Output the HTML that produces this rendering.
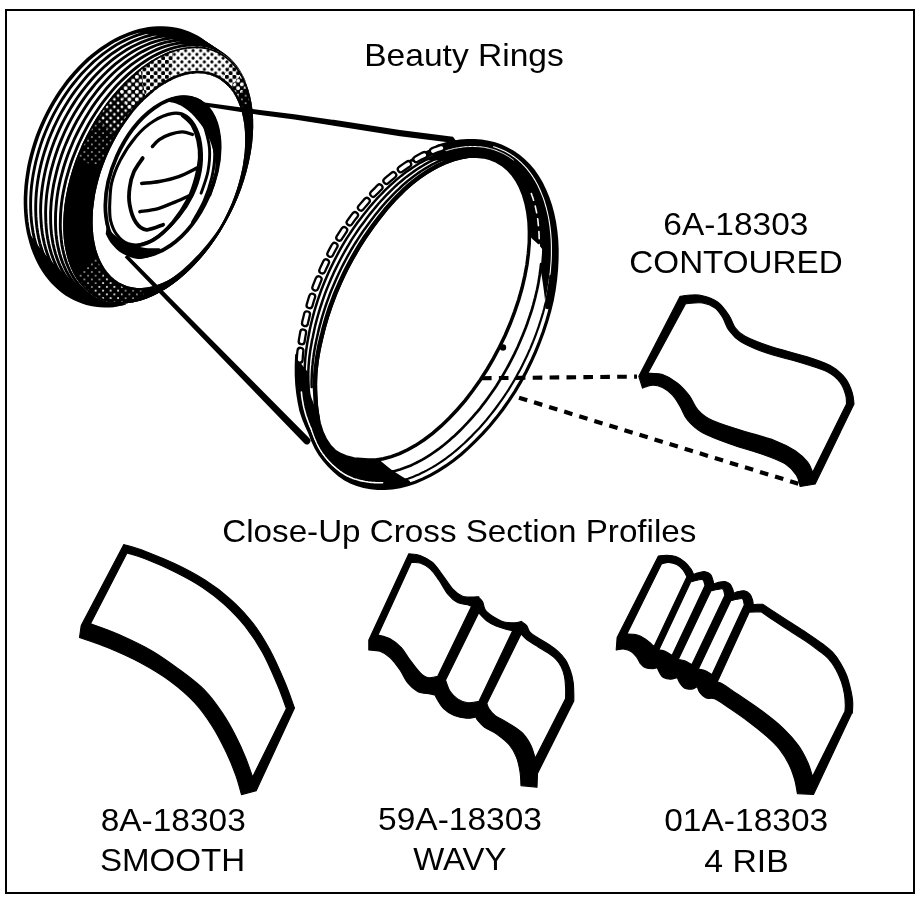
<!DOCTYPE html>
<html><head><meta charset="utf-8"><title>Beauty Rings</title>
<style>
html,body{margin:0;padding:0;background:#fff;}
svg{display:block;}
text{font-family:"Liberation Sans",sans-serif;fill:#000;}
</style></head><body>
<svg width="920" height="899" viewBox="0 0 920 899">
<rect x="0" y="0" width="920" height="899" fill="#fff"/>
<rect x="6" y="10" width="908" height="883" fill="none" stroke="#000" stroke-width="2"/>
<g text-anchor="middle" font-size="31.5" opacity="0.999">
<text transform="translate(464 66.3) scale(1.066 1)">Beauty Rings</text>
<text transform="translate(735.8 234.5) scale(1.062 1)">6A-18303</text>
<text transform="translate(736 273) scale(1.054 1)">CONTOURED</text>
<text transform="translate(459.3 541.8) scale(1.054 1)">Close-Up Cross Section Profiles</text>
<text transform="translate(173.2 830.8) scale(1.062 1)">8A-18303</text>
<text transform="translate(172.5 870.5) scale(1.051 1)">SMOOTH</text>
<text transform="translate(460 829.5) scale(1.064 1)">59A-18303</text>
<text transform="translate(459.8 869.5) scale(1.045 1)">WAVY</text>
<text transform="translate(746.2 831.2) scale(1.064 1)">01A-18303</text>
<text transform="translate(746.5 872) scale(1.072 1)">4 RIB</text>
</g>
<defs>
<pattern id="L0" width="7.5" height="7.5" patternUnits="userSpaceOnUse"><circle cx="1.875" cy="1.875" r="0.8" fill="#fff"/><circle cx="5.625" cy="5.625" r="0.8" fill="#fff"/></pattern>
<pattern id="L0b" width="7.5" height="7.5" patternUnits="userSpaceOnUse"><circle cx="1.875" cy="1.875" r="1.05" fill="#fff"/><circle cx="5.625" cy="5.625" r="1.05" fill="#fff"/></pattern>
<pattern id="L1" width="7.5" height="7.5" patternUnits="userSpaceOnUse"><circle cx="1.875" cy="1.875" r="1.35" fill="#fff"/><circle cx="5.625" cy="5.625" r="1.35" fill="#fff"/></pattern>
<pattern id="L2" width="7.5" height="7.5" patternUnits="userSpaceOnUse"><circle cx="1.875" cy="1.875" r="1.9" fill="#fff"/><circle cx="5.625" cy="5.625" r="1.9" fill="#fff"/></pattern>
<pattern id="L3" width="7.5" height="7.5" patternUnits="userSpaceOnUse"><rect width="7.5" height="7.5" fill="#fff"/><circle cx="1.875" cy="1.875" r="2.1" fill="#000"/><circle cx="5.625" cy="5.625" r="2.1" fill="#000"/></pattern>
<pattern id="L4" width="7.5" height="7.5" patternUnits="userSpaceOnUse"><rect width="7.5" height="7.5" fill="#fff"/><circle cx="1.875" cy="1.875" r="1.6" fill="#000"/><circle cx="5.625" cy="5.625" r="1.6" fill="#000"/></pattern>
<clipPath id="outsideEt"><path clip-rule="evenodd" d="M0,0 H920 V899 H0 Z M218.4,51.6 L223.4,54.4 L228,57.8 L232.4,61.7 L236.3,66.3 L239.9,71.3 L243.1,76.8 L245.9,82.9 L248.2,89.3 L250.1,96.2 L251.6,103.5 L252.6,111.1 L253.1,119.1 L253.2,127.3 L252.8,135.7 L252,144.4 L250.7,153.1 L248.9,162 L246.7,171 L244.1,179.9 L241.1,188.9 L237.6,197.8 L233.8,206.5 L229.6,215.1 L225,223.6 L220.2,231.7 L215,239.6 L209.5,247.2 L203.8,254.5 L197.9,261.3 L191.8,267.8 L185.5,273.7 L179.1,279.2 L172.6,284.2 L166,288.7 L159.4,292.6 L152.7,295.9 L146.1,298.7 L139.6,300.8 L133.1,302.3 L126.8,303.2 L120.6,303.5 L114.6,303.2 L108.8,302.2 L103.3,300.6 L98,298.4 L93,295.6 L88.4,292.2 L84,288.3 L80.1,283.7 L76.5,278.7 L73.3,273.2 L70.5,267.1 L68.2,260.7 L66.3,253.8 L64.8,246.5 L63.8,238.9 L63.3,230.9 L63.2,222.7 L63.6,214.3 L64.4,205.6 L65.7,196.9 L67.5,188 L69.7,179 L72.3,170.1 L75.3,161.1 L78.8,152.2 L82.6,143.5 L86.8,134.9 L91.4,126.4 L96.2,118.3 L101.4,110.4 L106.9,102.8 L112.6,95.5 L118.5,88.7 L124.6,82.2 L130.9,76.3 L137.3,70.8 L143.8,65.8 L150.4,61.3 L157,57.4 L163.7,54.1 L170.3,51.3 L176.8,49.2 L183.3,47.7 L189.6,46.8 L195.8,46.5 L201.8,46.8 L207.6,47.8 L213.1,49.4 L218.4,51.6 Z"/></clipPath>
<clipPath id="band"><path clip-rule="evenodd" d="M218.4,51.6 L223.4,54.4 L228,57.8 L232.4,61.7 L236.3,66.3 L239.9,71.3 L243.1,76.8 L245.9,82.9 L248.2,89.3 L250.1,96.2 L251.6,103.5 L252.6,111.1 L253.1,119.1 L253.2,127.3 L252.8,135.7 L252,144.4 L250.7,153.1 L248.9,162 L246.7,171 L244.1,179.9 L241.1,188.9 L237.6,197.8 L233.8,206.5 L229.6,215.1 L225,223.6 L220.2,231.7 L215,239.6 L209.5,247.2 L203.8,254.5 L197.9,261.3 L191.8,267.8 L185.5,273.7 L179.1,279.2 L172.6,284.2 L166,288.7 L159.4,292.6 L152.7,295.9 L146.1,298.7 L139.6,300.8 L133.1,302.3 L126.8,303.2 L120.6,303.5 L114.6,303.2 L108.8,302.2 L103.3,300.6 L98,298.4 L93,295.6 L88.4,292.2 L84,288.3 L80.1,283.7 L76.5,278.7 L73.3,273.2 L70.5,267.1 L68.2,260.7 L66.3,253.8 L64.8,246.5 L63.8,238.9 L63.3,230.9 L63.2,222.7 L63.6,214.3 L64.4,205.6 L65.7,196.9 L67.5,188 L69.7,179 L72.3,170.1 L75.3,161.1 L78.8,152.2 L82.6,143.5 L86.8,134.9 L91.4,126.4 L96.2,118.3 L101.4,110.4 L106.9,102.8 L112.6,95.5 L118.5,88.7 L124.6,82.2 L130.9,76.3 L137.3,70.8 L143.8,65.8 L150.4,61.3 L157,57.4 L163.7,54.1 L170.3,51.3 L176.8,49.2 L183.3,47.7 L189.6,46.8 L195.8,46.5 L201.8,46.8 L207.6,47.8 L213.1,49.4 L218.4,51.6 Z M214.7,76.7 L218.9,78.8 L222.8,81.4 L226.4,84.5 L229.8,88.1 L232.9,92.1 L235.6,96.6 L238,101.5 L240.1,106.7 L241.9,112.3 L243.2,118.3 L244.3,124.5 L244.9,131.1 L245.2,137.8 L245.1,144.8 L244.7,151.9 L243.8,159.2 L242.7,166.6 L241.1,174.1 L239.2,181.6 L237,189.1 L234.4,196.5 L231.5,203.9 L228.3,211.1 L224.8,218.2 L221,225.2 L217,231.9 L212.8,238.3 L208.3,244.5 L203.7,250.4 L198.8,255.9 L193.9,261 L188.8,265.8 L183.6,270.2 L178.3,274.1 L173,277.5 L167.7,280.5 L162.4,283 L157.1,285 L151.8,286.5 L146.7,287.5 L141.7,287.9 L136.7,287.9 L132,287.3 L127.4,286.2 L123.1,284.5 L118.9,282.4 L115,279.8 L111.4,276.7 L108,273.1 L104.9,269.1 L102.2,264.6 L99.8,259.7 L97.7,254.5 L95.9,248.9 L94.6,242.9 L93.5,236.7 L92.9,230.1 L92.6,223.4 L92.7,216.4 L93.1,209.3 L94,202 L95.1,194.6 L96.7,187.1 L98.6,179.6 L100.8,172.1 L103.4,164.7 L106.3,157.3 L109.5,150.1 L113,143 L116.8,136 L120.8,129.3 L125,122.9 L129.5,116.7 L134.1,110.8 L139,105.3 L143.9,100.2 L149,95.4 L154.2,91 L159.5,87.1 L164.8,83.7 L170.1,80.7 L175.4,78.2 L180.7,76.2 L186,74.7 L191.1,73.7 L196.1,73.3 L201.1,73.3 L205.8,73.9 L210.4,75 L214.7,76.7 Z"/></clipPath>
</defs>
<g id="tire">
<g clip-path="url(#outsideEt)" fill="none" stroke="#000">
<path d="M114,305.5 L109.3,305.8 L104.7,305.8 L100.1,305.5 L95.6,305 L91.1,304.2 L86.8,303.2 L82.5,301.8 L78.3,300.2 L74.3,298.4 L70.3,296.3 L66.5,293.9 L62.8,291.3 L59.3,288.4 L55.9,285.3 L52.6,282 L49.5,278.4 L46.6,274.7 L43.9,270.7 L41.3,266.5 L38.9,262.1 L36.7,257.6 L34.7,252.8 L32.8,247.9 L31.2,242.8 L29.8,237.6 L28.5,232.3 L27.5,226.8 L26.7,221.2 L26.1,215.5 L25.7,209.7 L25.5,203.8 L25.5,197.8 L25.8,191.8 L26.2,185.8 L26.9,179.7 L27.8,173.5 L28.8,167.4 L30.1,161.2 L31.6,155.1 L33.3,149 L35.2,142.9 L37.2,136.9 L39.5,130.9 L42,125 L44.6,119.2 L47.4,113.5 L50.4,107.9 L53.5,102.4 L56.8,97 L60.2,91.8 L63.8,86.7 L67.5,81.7 L71.4,77 L75.3,72.4 L79.4,68 L83.6,63.8 L87.9,59.7 L92.3,55.9 L96.8,52.4 L101.3,49 L105.9,45.9 L110.5,43 L115.2,40.3 L120,37.9 L124.7,35.8 L129.5,33.9 L134.3,32.2 L139.1,30.8 L143.9,29.7 L148.6,28.9 L153.4,28.3 L158,28 L162.7,28 L167.3,28.2 L171.8,28.7 L176.2,29.5 L180.6,30.6 L184.9,31.9 L189,33.5 L193.1,35.3 L197.1,37.4 L200.9,39.8 L204.6,42.4 L208.1,45.2 L211.5,48.3 L214.8,51.6 L217.9,55.2 L220.8,58.9 L223.6,62.9 L226.2,67.1" stroke-width="3.6"/>
<path d="M115.6,305.3 L111,305.5 L106.5,305.5 L102,305.3 L97.6,304.7 L93.3,304 L89,302.9 L84.9,301.6 L80.8,300 L76.9,298.1 L73.1,296 L69.4,293.7 L65.8,291.1 L62.4,288.2 L59.1,285.2 L56,281.9 L53,278.3 L50.2,274.6 L47.6,270.6 L45.1,266.5 L42.8,262.2 L40.7,257.6 L38.8,252.9 L37.1,248.1 L35.6,243 L34.2,237.9 L33.1,232.6 L32.2,227.1 L31.5,221.6 L31,215.9 L30.7,210.2 L30.6,204.3 L30.7,198.4 L31,192.5 L31.5,186.5 L32.3,180.4 L33.2,174.4 L34.4,168.3 L35.7,162.2 L37.3,156.1 L39,150.1 L40.9,144.1 L43,138.1 L45.3,132.2 L47.8,126.4 L50.5,120.6 L53.3,114.9 L56.3,109.4 L59.4,103.9 L62.7,98.6 L66.2,93.4 L69.7,88.4 L73.5,83.5 L77.3,78.8 L81.2,74.2 L85.3,69.9 L89.5,65.7 L93.7,61.7 L98.1,58 L102.5,54.4 L107,51.1 L111.5,48 L116.1,45.1 L120.7,42.5 L125.4,40.1 L130.1,38 L134.8,36.1 L139.5,34.5 L144.2,33.2 L148.9,32.1 L153.5,31.3 L158.2,30.7 L162.8,30.4 L167.3,30.4 L171.8,30.6 L176.2,31.1 L180.5,31.9 L184.8,33 L188.9,34.3 L193,35.9 L196.9,37.7 L200.8,39.8 L204.5,42.1 L208,44.7 L211.5,47.5 L214.8,50.6 L217.9,53.9 L220.9,57.4 L223.7,61.1 L226.3,65.1 L228.8,69.2" stroke-width="2.9"/>
<path d="M117.2,305 L112.8,305.3 L108.3,305.3 L104,305 L99.7,304.5 L95.4,303.7 L91.3,302.6 L87.3,301.3 L83.3,299.7 L79.5,297.9 L75.8,295.8 L72.2,293.5 L68.8,290.9 L65.5,288.1 L62.3,285 L59.3,281.7 L56.4,278.3 L53.8,274.5 L51.2,270.6 L48.9,266.5 L46.7,262.2 L44.8,257.7 L43,253.1 L41.4,248.2 L39.9,243.3 L38.7,238.1 L37.7,232.9 L36.9,227.5 L36.3,222 L35.9,216.4 L35.7,210.7 L35.7,204.9 L35.9,199.1 L36.3,193.2 L36.9,187.2 L37.7,181.2 L38.7,175.2 L39.9,169.2 L41.3,163.2 L42.9,157.2 L44.7,151.2 L46.7,145.2 L48.8,139.3 L51.2,133.5 L53.7,127.7 L56.4,122 L59.2,116.4 L62.2,110.9 L65.4,105.5 L68.7,100.2 L72.1,95.1 L75.7,90.1 L79.4,85.3 L83.2,80.6 L87.1,76.1 L91.2,71.8 L95.3,67.7 L99.5,63.7 L103.8,60 L108.2,56.5 L112.6,53.2 L117.1,50.2 L121.6,47.3 L126.2,44.8 L130.8,42.4 L135.4,40.3 L140,38.5 L144.6,36.9 L149.3,35.5 L153.9,34.4 L158.4,33.6 L163,33.1 L167.4,32.8 L171.9,32.8 L176.3,33 L180.6,33.6 L184.8,34.3 L188.9,35.4 L193,36.7 L196.9,38.3 L200.7,40.1 L204.5,42.2 L208,44.5 L211.5,47 L214.8,49.8 L218,52.9 L221,56.1 L223.8,59.6 L226.5,63.3 L229.1,67.2 L231.4,71.3" stroke-width="2.9"/>
<path d="M118.9,304.7 L114.5,305 L110.2,305 L105.9,304.7 L101.7,304.2 L97.6,303.4 L93.6,302.3 L89.7,301 L85.8,299.5 L82.1,297.6 L78.6,295.6 L75.1,293.3 L71.8,290.7 L68.6,287.9 L65.5,284.9 L62.6,281.6 L59.9,278.2 L57.4,274.5 L55,270.6 L52.7,266.5 L50.7,262.3 L48.8,257.8 L47.1,253.2 L45.6,248.4 L44.3,243.5 L43.2,238.4 L42.3,233.2 L41.6,227.9 L41.1,222.5 L40.8,216.9 L40.6,211.3 L40.7,205.6 L41,199.8 L41.5,193.9 L42.2,188 L43.1,182.1 L44.2,176.1 L45.4,170.2 L46.9,164.2 L48.5,158.3 L50.4,152.3 L52.4,146.4 L54.6,140.6 L57,134.8 L59.5,129.1 L62.2,123.4 L65.1,117.9 L68.1,112.4 L71.3,107.1 L74.6,101.9 L78,96.8 L81.6,91.9 L85.3,87.1 L89.1,82.5 L93,78 L97,73.8 L101.1,69.7 L105.3,65.8 L109.5,62.1 L113.8,58.7 L118.2,55.4 L122.7,52.4 L127.1,49.6 L131.6,47 L136.2,44.7 L140.7,42.6 L145.2,40.8 L149.8,39.2 L154.3,37.9 L158.8,36.8 L163.3,36 L167.7,35.5 L172.1,35.2 L176.5,35.2 L180.7,35.5 L184.9,36 L189,36.8 L193.1,37.8 L197,39.1 L200.8,40.7 L204.5,42.5 L208.1,44.5 L211.6,46.8 L214.9,49.4 L218.1,52.1 L221.2,55.1 L224.1,58.4 L226.8,61.8 L229.4,65.5 L231.8,69.4 L234,73.4" stroke-width="2.9"/>
<path d="M120.6,304.4 L116.3,304.7 L112.1,304.7 L107.9,304.4 L103.8,303.9 L99.8,303.1 L95.9,302 L92.1,300.7 L88.4,299.2 L84.8,297.4 L81.3,295.3 L78,293 L74.8,290.5 L71.7,287.8 L68.8,284.8 L66,281.5 L63.4,278.1 L61,274.5 L58.7,270.6 L56.6,266.6 L54.6,262.4 L52.9,258 L51.3,253.4 L49.9,248.7 L48.7,243.8 L47.7,238.8 L46.9,233.6 L46.3,228.3 L45.9,222.9 L45.7,217.4 L45.6,211.9 L45.8,206.2 L46.2,200.5 L46.7,194.7 L47.5,188.9 L48.5,183 L49.6,177.1 L50.9,171.2 L52.5,165.3 L54.2,159.4 L56.1,153.5 L58.1,147.7 L60.4,141.9 L62.8,136.2 L65.3,130.5 L68.1,124.9 L71,119.4 L74,114 L77.2,108.8 L80.5,103.6 L83.9,98.6 L87.5,93.7 L91.2,89 L94.9,84.4 L98.8,80 L102.8,75.8 L106.9,71.7 L111,67.9 L115.2,64.2 L119.5,60.8 L123.8,57.6 L128.2,54.6 L132.6,51.8 L137,49.3 L141.5,47 L146,45 L150.4,43.1 L154.9,41.6 L159.3,40.3 L163.8,39.2 L168.1,38.5 L172.5,37.9 L176.8,37.7 L181,37.6 L185.2,37.9 L189.3,38.4 L193.3,39.2 L197.2,40.2 L201,41.5 L204.7,43 L208.3,44.8 L211.8,46.9 L215.1,49.2 L218.3,51.7 L221.4,54.4 L224.4,57.4 L227.1,60.6 L229.7,64 L232.2,67.7 L234.5,71.5 L236.6,75.5" stroke-width="2.9"/>
<path d="M122.3,304.1 L118.1,304.4 L114,304.4 L109.9,304.1 L105.9,303.6 L102,302.8 L98.2,301.8 L94.5,300.5 L90.9,298.9 L87.5,297.1 L84.1,295.1 L80.9,292.8 L77.8,290.3 L74.8,287.6 L72,284.6 L69.4,281.5 L66.9,278.1 L64.6,274.5 L62.4,270.7 L60.4,266.7 L58.6,262.5 L56.9,258.1 L55.5,253.6 L54.2,248.9 L53.1,244.1 L52.2,239.1 L51.5,234 L51,228.8 L50.7,223.5 L50.6,218 L50.6,212.5 L50.9,206.9 L51.3,201.2 L52,195.5 L52.8,189.7 L53.8,183.9 L55.1,178.1 L56.5,172.2 L58,166.4 L59.8,160.6 L61.7,154.8 L63.8,149 L66.1,143.3 L68.6,137.6 L71.2,132 L73.9,126.5 L76.8,121 L79.9,115.7 L83.1,110.5 L86.4,105.4 L89.8,100.4 L93.4,95.6 L97,90.9 L100.8,86.3 L104.7,82 L108.6,77.8 L112.6,73.8 L116.7,70 L120.9,66.4 L125.1,63 L129.4,59.8 L133.7,56.9 L138.1,54.1 L142.4,51.6 L146.8,49.4 L151.2,47.3 L155.6,45.5 L160,44 L164.3,42.7 L168.7,41.7 L173,40.9 L177.2,40.4 L181.4,40.1 L185.5,40.1 L189.6,40.3 L193.6,40.9 L197.5,41.6 L201.3,42.6 L205,43.9 L208.6,45.4 L212.1,47.2 L215.4,49.2 L218.7,51.5 L221.8,54 L224.7,56.7 L227.5,59.7 L230.2,62.8 L232.7,66.2 L235,69.8 L237.2,73.6 L239.2,77.6" stroke-width="2.9"/>
<path d="M124,303.8 L119.9,304 L115.9,304 L111.9,303.8 L108.1,303.3 L104.3,302.5 L100.6,301.5 L97,300.2 L93.5,298.7 L90.2,296.9 L86.9,294.9 L83.8,292.6 L80.8,290.2 L78,287.5 L75.3,284.5 L72.8,281.4 L70.4,278 L68.2,274.5 L66.1,270.7 L64.3,266.7 L62.6,262.6 L61,258.3 L59.7,253.8 L58.5,249.2 L57.5,244.4 L56.7,239.5 L56.1,234.4 L55.7,229.3 L55.5,224 L55.5,218.6 L55.6,213.2 L56,207.6 L56.5,202 L57.2,196.3 L58.1,190.6 L59.2,184.9 L60.5,179.1 L62,173.3 L63.6,167.5 L65.4,161.8 L67.4,156 L69.6,150.3 L71.9,144.7 L74.3,139 L77,133.5 L79.8,128 L82.7,122.7 L85.7,117.4 L88.9,112.2 L92.2,107.1 L95.7,102.2 L99.2,97.4 L102.9,92.8 L106.6,88.3 L110.5,84 L114.4,79.9 L118.4,75.9 L122.5,72.2 L126.6,68.6 L130.8,65.2 L135,62.1 L139.2,59.2 L143.5,56.5 L147.8,54 L152.1,51.7 L156.5,49.7 L160.8,47.9 L165.1,46.4 L169.3,45.1 L173.6,44.1 L177.8,43.3 L181.9,42.8 L186,42.6 L190,42.6 L194,42.8 L197.9,43.3 L201.7,44.1 L205.4,45.1 L208.9,46.3 L212.4,47.8 L215.8,49.6 L219,51.6 L222.2,53.8 L225.1,56.3 L228,59 L230.7,61.9 L233.2,65 L235.6,68.4 L237.8,71.9 L239.9,75.7 L241.8,79.6" stroke-width="2.9"/>
<path d="M125.7,303.4 L121.7,303.7 L117.8,303.7 L114,303.4 L110.2,302.9 L106.5,302.2 L102.9,301.2 L99.5,299.9 L96.1,298.4 L92.9,296.7 L89.7,294.7 L86.7,292.5 L83.9,290 L81.2,287.3 L78.6,284.4 L76.2,281.3 L73.9,278 L71.8,274.5 L69.9,270.8 L68.1,266.8 L66.5,262.8 L65.1,258.5 L63.9,254.1 L62.8,249.5 L61.9,244.8 L61.3,239.9 L60.8,234.9 L60.4,229.8 L60.3,224.6 L60.4,219.3 L60.6,213.8 L61,208.4 L61.6,202.8 L62.4,197.2 L63.4,191.6 L64.6,185.9 L65.9,180.2 L67.5,174.5 L69.2,168.7 L71,163 L73.1,157.3 L75.3,151.7 L77.6,146.1 L80.1,140.5 L82.8,135 L85.6,129.6 L88.5,124.3 L91.6,119.1 L94.8,114 L98.1,109 L101.5,104.1 L105.1,99.4 L108.7,94.8 L112.4,90.4 L116.2,86.1 L120.1,82 L124.1,78.1 L128.1,74.4 L132.2,70.8 L136.4,67.5 L140.5,64.4 L144.7,61.5 L148.9,58.8 L153.2,56.3 L157.4,54.1 L161.7,52.1 L165.9,50.4 L170.1,48.9 L174.3,47.6 L178.4,46.6 L182.5,45.8 L186.6,45.3 L190.6,45 L194.5,45 L198.4,45.3 L202.2,45.8 L205.8,46.5 L209.4,47.5 L212.9,48.7 L216.3,50.2 L219.5,52 L222.6,53.9 L225.6,56.1 L228.5,58.6 L231.2,61.2 L233.8,64.1 L236.2,67.2 L238.5,70.5 L240.6,74.1 L242.6,77.8 L244.3,81.7" stroke-width="2.9"/>
<path fill="#000" stroke="none" d="M134.8,32.1 L137.6,31.2 L140.5,30.5 L143.3,29.8 L146.1,29.3 L148.9,28.8 L151.7,28.5 L154.5,28.2 L157.3,28 L160.1,28 L162.8,28 L165.5,28.1 L168.2,28.3 L170.9,28.6 L173.6,29 L176.2,29.5 L178.8,30.1 L181.3,30.8 L183.9,31.6 L186.4,32.4 L188.8,33.4 L191.2,34.4 L193.6,35.6 L196,36.8 L198.3,38.1 L200.5,39.6 L202.7,41.1 L204.9,42.6 L207,44.3 L209.1,46.1 L211.1,47.9 L213.1,49.8 L215,51.8 L216.8,53.9 L218.6,56 L220.3,58.3 L222,60.6 L223.6,63 L225.2,65.4 L226.7,67.9 L228.1,70.5 L247.1,86.1 L246.2,83.7 L245.2,81.3 L244.2,79.1 L243.1,76.8 L241.9,74.7 L240.7,72.6 L239.5,70.6 L238.2,68.7 L236.8,66.9 L235.4,65.1 L233.9,63.4 L232.4,61.7 L230.8,60.2 L229.1,58.7 L227.5,57.3 L225.7,56 L224,54.8 L222.2,53.6 L220.3,52.6 L218.4,51.6 L216.4,50.7 L214.5,49.9 L212.4,49.2 L210.4,48.5 L208.3,48 L206.1,47.5 L204,47.1 L201.8,46.8 L199.6,46.6 L197.3,46.5 L193.8,45.8 L187.7,43.9 L181.5,42 L175.2,40.2 L168.8,38.6 L162.2,37 L155.5,35.6 L148.7,34.3 L141.8,33.1 L134.8,32.1 Z"/>
<path fill="#000" stroke="none" d="M132.8,301.7 L129.2,302.8 L125.6,303.7 L122,304.4 L118.5,305 L114.9,305.4 L111.4,305.7 L107.9,305.8 L104.4,305.8 L101,305.6 L97.6,305.3 L94.2,304.8 L90.9,304.2 L87.6,303.4 L84.4,302.4 L81.2,301.4 L78.1,300.1 L75.1,298.8 L72.1,297.2 L69.2,295.6 L66.3,293.8 L63.6,291.8 L60.9,289.7 L58.2,287.5 L55.7,285.1 L53.3,282.7 L50.9,280.1 L48.6,277.3 L46.5,274.5 L44.4,271.5 L42.4,268.4 L40.5,265.2 L38.8,261.9 L37.1,258.5 L35.5,255 L34.1,251.3 L32.7,247.6 L31.5,243.9 L30.4,240 L29.4,236 L28.5,232 L28.5,232 L31.3,236.1 L34.1,240.2 L37,244.1 L40,247.9 L43,251.6 L46,255.2 L49.1,258.7 L52.1,262.1 L55.3,265.3 L58.4,268.4 L61.6,271.4 L64.8,274.3 L68,277 L71.3,279.6 L74.5,282 L77.8,284.3 L81.1,286.4 L84.2,288.5 L86.3,290.4 L88.4,292.2 L90.5,293.9 L92.8,295.4 L95.1,296.9 L97.5,298.2 L100,299.3 L102.5,300.3 L105.1,301.2 L107.7,301.9 L110.4,302.5 L113.1,303 L115.9,303.3 L118.8,303.5 L121.7,303.5 L124.6,303.4 L127.6,303.1 L130.6,302.8 L133.6,302.2 L136.7,301.6 L139.7,300.7 L142.8,299.8 Z"/>
</g>
<path fill="#000" fill-rule="evenodd" d="M218.4,51.6 L223.4,54.4 L228,57.8 L232.4,61.7 L236.3,66.3 L239.9,71.3 L243.1,76.8 L245.9,82.9 L248.2,89.3 L250.1,96.2 L251.6,103.5 L252.6,111.1 L253.1,119.1 L253.2,127.3 L252.8,135.7 L252,144.4 L250.7,153.1 L248.9,162 L246.7,171 L244.1,179.9 L241.1,188.9 L237.6,197.8 L233.8,206.5 L229.6,215.1 L225,223.6 L220.2,231.7 L215,239.6 L209.5,247.2 L203.8,254.5 L197.9,261.3 L191.8,267.8 L185.5,273.7 L179.1,279.2 L172.6,284.2 L166,288.7 L159.4,292.6 L152.7,295.9 L146.1,298.7 L139.6,300.8 L133.1,302.3 L126.8,303.2 L120.6,303.5 L114.6,303.2 L108.8,302.2 L103.3,300.6 L98,298.4 L93,295.6 L88.4,292.2 L84,288.3 L80.1,283.7 L76.5,278.7 L73.3,273.2 L70.5,267.1 L68.2,260.7 L66.3,253.8 L64.8,246.5 L63.8,238.9 L63.3,230.9 L63.2,222.7 L63.6,214.3 L64.4,205.6 L65.7,196.9 L67.5,188 L69.7,179 L72.3,170.1 L75.3,161.1 L78.8,152.2 L82.6,143.5 L86.8,134.9 L91.4,126.4 L96.2,118.3 L101.4,110.4 L106.9,102.8 L112.6,95.5 L118.5,88.7 L124.6,82.2 L130.9,76.3 L137.3,70.8 L143.8,65.8 L150.4,61.3 L157,57.4 L163.7,54.1 L170.3,51.3 L176.8,49.2 L183.3,47.7 L189.6,46.8 L195.8,46.5 L201.8,46.8 L207.6,47.8 L213.1,49.4 L218.4,51.6 Z M214.7,76.7 L218.9,78.8 L222.8,81.4 L226.4,84.5 L229.8,88.1 L232.9,92.1 L235.6,96.6 L238,101.5 L240.1,106.7 L241.9,112.3 L243.2,118.3 L244.3,124.5 L244.9,131.1 L245.2,137.8 L245.1,144.8 L244.7,151.9 L243.8,159.2 L242.7,166.6 L241.1,174.1 L239.2,181.6 L237,189.1 L234.4,196.5 L231.5,203.9 L228.3,211.1 L224.8,218.2 L221,225.2 L217,231.9 L212.8,238.3 L208.3,244.5 L203.7,250.4 L198.8,255.9 L193.9,261 L188.8,265.8 L183.6,270.2 L178.3,274.1 L173,277.5 L167.7,280.5 L162.4,283 L157.1,285 L151.8,286.5 L146.7,287.5 L141.7,287.9 L136.7,287.9 L132,287.3 L127.4,286.2 L123.1,284.5 L118.9,282.4 L115,279.8 L111.4,276.7 L108,273.1 L104.9,269.1 L102.2,264.6 L99.8,259.7 L97.7,254.5 L95.9,248.9 L94.6,242.9 L93.5,236.7 L92.9,230.1 L92.6,223.4 L92.7,216.4 L93.1,209.3 L94,202 L95.1,194.6 L96.7,187.1 L98.6,179.6 L100.8,172.1 L103.4,164.7 L106.3,157.3 L109.5,150.1 L113,143 L116.8,136 L120.8,129.3 L125,122.9 L129.5,116.7 L134.1,110.8 L139,105.3 L143.9,100.2 L149,95.4 L154.2,91 L159.5,87.1 L164.8,83.7 L170.1,80.7 L175.4,78.2 L180.7,76.2 L186,74.7 L191.1,73.7 L196.1,73.3 L201.1,73.3 L205.8,73.9 L210.4,75 L214.7,76.7 Z"/>
<g clip-path="url(#band)">
<path d="M158.2,175 L50.5,156.9 L51.2,155 L51.9,153.1 L52.7,151.2 L53.4,149.2 L54.2,147.3 L55,145.4 L55.8,143.5 L56.6,141.6 L57.4,139.7 L58.2,137.8 L59.1,135.9 L59.9,134 L60.8,132.1 L61.7,130.3 L62.6,128.4 L63.5,126.5 L64.5,124.7 L65.4,122.8 L66.4,121 L67.3,119.1 L68.3,117.3 L69.3,115.5 L70.3,113.7 L71.3,111.9 L72.4,110.1 L73.4,108.3 L74.4,106.5 L75.5,104.7 L76.6,103 L77.7,101.2 Z" fill="url(#L0)"/>
<path d="M158.2,175 L77.7,101.2 L78.5,99.8 L79.4,98.5 L80.3,97.1 L81.2,95.7 L82.1,94.3 L83,93 L83.9,91.6 L84.9,90.3 L85.8,89 L86.7,87.6 L87.7,86.3 L88.6,85 L89.6,83.7 L90.5,82.4 L91.5,81.1 L92.4,79.8 L93.4,78.5 L94.4,77.3 L95.4,76 L96.4,74.8 L97.4,73.5 L98.4,72.3 L99.4,71.1 L100.4,69.9 L101.4,68.7 L102.5,67.5 L103.5,66.3 L104.5,65.1 L105.6,63.9 L106.6,62.8 Z" fill="url(#L1)"/>
<path d="M158.2,175 L106.6,62.8 L107.5,61.8 L108.4,60.8 L109.4,59.8 L110.3,58.8 L111.2,57.8 L112.1,56.9 L113.1,55.9 L114,55 L115,54 L115.9,53.1 L116.8,52.2 L117.8,51.2 L118.7,50.3 L119.7,49.4 L120.7,48.5 L121.6,47.6 L122.6,46.8 L123.5,45.9 L124.5,45 L125.5,44.2 L126.5,43.3 L127.4,42.5 L128.4,41.7 L129.4,40.9 L130.4,40.1 L131.3,39.3 L132.3,38.5 L133.3,37.7 L134.3,36.9 L135.3,36.2 Z" fill="url(#L2)"/>
<path d="M158.2,175 L135.3,36.2 L136.7,35.1 L138.1,34 L139.5,33 L140.9,32 L142.4,31 L143.8,30 L145.2,29.1 L146.7,28.1 L148.1,27.2 L149.5,26.3 L151,25.4 L152.4,24.6 L153.8,23.8 L155.3,22.9 L156.7,22.1 L158.1,21.4 L159.6,20.6 L161,19.9 L162.5,19.2 L163.9,18.5 L165.3,17.8 L166.8,17.2 L168.2,16.5 L169.6,15.9 L171.1,15.4 L172.5,14.8 L173.9,14.2 L175.3,13.7 L176.8,13.2 L178.2,12.8 Z" fill="url(#L3)"/>
<path d="M158.2,175 L178.2,12.8 L181.1,11.8 L184.1,11 L187,10.3 L190,9.6 L192.9,9.1 L195.8,8.7 L198.6,8.3 L201.5,8.1 L204.3,8 L207.1,7.9 L209.8,8 L212.6,8.2 L215.2,8.4 L217.9,8.8 L220.5,9.3 L223.1,9.8 L225.7,10.5 L228.2,11.2 L230.6,12.1 L233.1,13 L235.4,14.1 L237.8,15.2 L240.1,16.5 L242.3,17.8 L244.5,19.2 L246.6,20.8 L248.7,22.4 L250.7,24.1 L252.7,25.9 L254.6,27.8 Z" fill="url(#L4)"/>
<path d="M158.2,175 L254.6,27.8 L255.1,28.2 L255.5,28.7 L255.9,29.2 L256.4,29.6 L256.8,30.1 L257.2,30.6 L257.7,31.1 L258.1,31.6 L258.5,32.1 L258.9,32.6 L259.3,33.1 L259.8,33.6 L260.2,34.2 L260.6,34.7 L261,35.2 L261.4,35.7 L261.8,36.3 L262.2,36.8 L262.5,37.4 L262.9,37.9 L263.3,38.5 L263.7,39.1 L264,39.6 L264.4,40.2 L264.8,40.8 L265.1,41.4 L265.5,41.9 L265.9,42.5 L266.2,43.1 L266.6,43.7 Z" fill="url(#L3)"/>
<path d="M158.2,175 L266.6,43.7 L266.8,44.2 L267.1,44.7 L267.4,45.2 L267.6,45.7 L267.9,46.2 L268.2,46.7 L268.4,47.2 L268.7,47.7 L268.9,48.2 L269.2,48.7 L269.4,49.2 L269.7,49.7 L269.9,50.2 L270.2,50.7 L270.4,51.2 L270.7,51.8 L270.9,52.3 L271.1,52.8 L271.4,53.4 L271.6,53.9 L271.8,54.4 L272,55 L272.3,55.5 L272.5,56.1 L272.7,56.6 L272.9,57.2 L273.1,57.7 L273.3,58.3 L273.5,58.8 L273.8,59.4 Z" fill="url(#L2)"/>
<path d="M158.2,175 L273.8,59.4 L274,60.1 L274.3,60.8 L274.5,61.5 L274.7,62.2 L275,62.9 L275.2,63.7 L275.4,64.4 L275.7,65.1 L275.9,65.8 L276.1,66.6 L276.3,67.3 L276.5,68.1 L276.7,68.8 L276.9,69.6 L277.1,70.3 L277.3,71.1 L277.5,71.8 L277.7,72.6 L277.9,73.4 L278,74.2 L278.2,74.9 L278.4,75.7 L278.5,76.5 L278.7,77.3 L278.9,78.1 L279,78.9 L279.2,79.7 L279.3,80.5 L279.4,81.3 L279.6,82.1 Z" fill="url(#L0)"/>
<path d="M158.2,175 L138.2,337.2 L137.2,337.6 L136.1,337.9 L135,338.2 L134,338.5 L132.9,338.8 L131.9,339.1 L130.8,339.4 L129.8,339.6 L128.7,339.9 L127.7,340.1 L126.6,340.3 L125.6,340.5 L124.6,340.7 L123.5,340.9 L122.5,341.1 L121.5,341.2 L120.4,341.3 L119.4,341.5 L118.4,341.6 L117.4,341.7 L116.3,341.8 L115.3,341.9 L114.3,341.9 L113.3,342 L112.3,342 L111.3,342 L110.3,342.1 L109.3,342.1 L108.3,342 L107.4,342 Z" fill="url(#L0)"/>
<path d="M158.2,175 L107.4,342 L106.1,342 L104.8,341.9 L103.5,341.8 L102.2,341.7 L100.9,341.5 L99.6,341.4 L98.4,341.2 L97.1,341 L95.9,340.7 L94.6,340.5 L93.4,340.2 L92.2,339.9 L91,339.6 L89.8,339.2 L88.6,338.9 L87.4,338.5 L86.2,338.1 L85.1,337.6 L83.9,337.2 L82.8,336.7 L81.6,336.2 L80.5,335.7 L79.4,335.2 L78.3,334.6 L77.2,334 L76.1,333.4 L75.1,332.8 L74,332.1 L73,331.4 L71.9,330.8 Z" fill="url(#L0b)"/>
<path d="M158.2,175 L71.9,330.8 L71.2,330.2 L70.4,329.7 L69.6,329.1 L68.9,328.5 L68.1,328 L67.4,327.4 L66.7,326.8 L66,326.2 L65.3,325.5 L64.5,324.9 L63.8,324.2 L63.2,323.6 L62.5,322.9 L61.8,322.2 L61.1,321.5 L60.5,320.8 L59.8,320.1 L59.2,319.4 L58.5,318.6 L57.9,317.9 L57.3,317.1 L56.6,316.4 L56,315.6 L55.4,314.8 L54.8,314 L54.2,313.2 L53.7,312.3 L53.1,311.5 L52.5,310.7 L52,309.8 Z" fill="url(#L0)"/>
<ellipse cx="158.2" cy="175" rx="81.8" ry="137.3" transform="rotate(26 158.2 175)" fill="none" stroke="#000" stroke-width="3.5"/>
<ellipse cx="168.9" cy="180.6" rx="66.7" ry="113.6" transform="rotate(23.8 168.9 180.6)" fill="none" stroke="#000" stroke-width="5"/>
</g>
<g fill="none" stroke="#000" stroke-linecap="round" stroke-linejoin="round">
<ellipse cx="162.5" cy="176.6" rx="50" ry="84.2" transform="rotate(24 162.5 176.6)" stroke-width="3.8"/>
<path d="M109.6,206.8 C109.9,202.9 109.8,191.2 111.5,183.5 C113.3,175.7 116.3,167.9 120.3,160.1 C124.4,152.3 130.4,143.2 135.9,136.7 C141.4,130.2 147.2,125 153.4,121.2 C159.6,117.3 167.4,114.2 172.9,113.4 C178.4,112.6 182.6,113.7 186.5,116.3 C190.4,118.9 193.8,123.6 196.2,128.9 C198.7,134.3 200.5,141.3 201.1,148.4 C201.8,155.6 201.6,164 200.1,171.8 C198.7,179.6 195.9,187.7 192.4,195.1 C188.8,202.6 183.9,210.1 178.7,216.6 C173.5,223 167,229.5 161.2,234.1 C155.4,238.6 149.2,242.2 143.7,243.8 C138.2,245.4 132.6,245.4 128.1,243.8 C123.6,242.2 119.3,238 116.4,234.1 C113.5,230.2 111.7,225 110.6,220.5 C109.4,215.9 109.8,209.1 109.6,206.8" stroke-width="3.1"/>
<path d="M142.7,158.1 C141.2,160.4 136.1,166.9 133.9,171.8 C131.8,176.6 130.4,181.8 129.7,187.4 C128.9,192.9 128.6,199 129.7,204.9 C130.7,210.7 133.1,218.2 135.9,222.4 C138.7,226.6 142.1,229.4 146.6,229.8 C151.1,230.2 160.4,225.6 163.1,224.7" stroke-width="3.8"/>
<path d="M152.4,146.5 C153.6,145.3 156.3,141.7 159.3,139.6 C162.2,137.6 166.1,135.7 170,134.4 C173.9,133.1 178.9,131.9 182.6,131.9 C186.3,131.9 190.7,134 192.4,134.4" stroke-width="3.4"/>
<path d="M182.6,115.3 C184.2,116.9 189.8,120.8 192.4,125 C194.9,129.3 197,135.1 198.2,140.6 C199.4,146.1 200.1,152 199.8,158.1 C199.4,164.3 198.1,170.8 196.2,177.6 C194.4,184.4 192.4,191.6 188.5,199 C184.6,206.5 178.7,215.6 172.9,222.4 C167,229.2 159.9,235.9 153.4,239.9 C146.9,244 137.2,245.6 133.9,246.7" stroke-width="3.8"/>
<path d="M141.7,183.5 C144.6,183.1 153.1,182.6 159.3,181.5 C165.4,180.4 172.4,178.9 178.7,176.6 C185.1,174.4 194.1,169.3 197.2,167.9" stroke-width="3.4"/>
<path d="M139.8,211.7 C142.7,211.2 151.8,210.2 157.3,208.8 C162.8,207.3 167.7,205 172.9,202.9 C178.1,200.8 185.9,197.2 188.5,196.1" stroke-width="3.4"/>
<path d="M205,128 C205.8,131.4 209,141.1 209.5,148.4 C210,155.7 209.3,164.3 207.9,171.8 C206.5,179.2 202.2,189.6 201.1,193.2" stroke-width="2.9"/>
<path d="M211.8,134.8 C212.3,138 214.7,147.1 214.7,154.3 C214.7,161.4 213.6,169.8 211.8,177.6 C210,185.4 207.3,193.5 204,201 C200.8,208.4 194.3,218.8 192.4,222.4" stroke-width="2.9"/>
<path d="M217.7,146.5 C217.5,150.7 218,163.7 216.7,171.8 C215.4,179.9 211,191.2 209.9,195.1" stroke-width="2.9"/>
</g>
<path fill="#000" d="M164.4,100.4 L167.2,99.2 L170,98.1 L172.7,97.2 L175.5,96.5 L178.2,96 L180.8,95.6 L183.5,95.5 L186.1,95.5 L188.6,95.7 L191.1,96.1 L193.5,96.7 L195.8,97.5 L198,98.4 L200.2,99.6 L202.3,100.9 L204.3,102.4 L206.2,104 L208,105.8 L209.7,107.8 L211.3,110 L212.7,112.3 L214.1,114.7 L215.3,117.3 L216.4,120 L217.4,122.9 L218.3,125.9 L219,129 L219.6,132.2 L220.1,135.5 L220.5,138.9 L220.7,142.4 L220.7,145.9 L220.7,149.6 L220.5,153.3 L220.1,157 L219.7,160.9 L219.1,164.7 L218.4,168.6 L217.5,172.4 L216.5,176.3 L215.5,176.3 L215.6,172.6 L215.6,168.9 L215.5,165.4 L215.2,162.1 L214.8,158.9 L214.3,155.8 L213.8,152.8 L213.1,150 L212.3,147.3 L211.5,144.7 L210.6,142.3 L209.7,139.9 L208.7,137.7 L207.7,135.5 L206.6,133.5 L205.5,131.5 L204.3,129.6 L203.2,127.8 L202,126 L200.8,124.3 L199.5,122.7 L198.2,121 L196.9,119.4 L195.6,117.9 L194.2,116.3 L192.7,114.8 L191.3,113.3 L189.7,111.9 L188.1,110.5 L186.4,109.2 L184.6,107.9 L182.8,106.7 L180.8,105.6 L178.8,104.7 L176.6,103.8 L174.4,103.1 L172,102.5 L169.6,102.1 L167,101.9 L164.4,101.9 Z"/>
<path fill="#000" d="M241.1,188.9 L239.3,193.6 L237.4,198.3 L235.4,203 L233.3,207.6 L231.1,212.2 L228.7,216.7 L226.3,221.2 L223.8,225.6 L221.2,230 L218.6,234.2 L215.8,238.4 L213,242.5 L210,246.5 L207.1,250.4 L204,254.3 L200.9,258 L197.7,261.5 L194.5,265 L191.2,268.3 L187.9,271.5 L184.5,274.6 L181.1,277.6 L177.7,280.4 L174.2,283 L170.7,285.5 L167.2,287.9 L163.7,290.1 L160.2,292.1 L156.7,294 L153.1,295.7 L149.6,297.3 L146.1,298.7 L142.6,299.9 L139.2,300.9 L135.7,301.8 L132.3,302.5 L128.9,303 L125.6,303.3 L122.3,303.5 L119.1,303.5 L119.1,303.5 L122.5,302.9 L125.9,302.1 L129.4,301.1 L132.8,300 L136.3,298.7 L139.7,297.3 L143.1,295.8 L146.6,294.2 L150,292.4 L153.4,290.5 L156.7,288.5 L160.1,286.4 L163.4,284.2 L166.7,282 L170,279.6 L173.3,277.1 L176.6,274.6 L179.8,271.9 L183.1,269.2 L186.3,266.3 L189.4,263.4 L192.6,260.3 L195.7,257.1 L198.8,253.9 L201.8,250.5 L204.8,247 L207.8,243.4 L210.7,239.8 L213.6,236 L216.4,232.2 L219.2,228.2 L221.9,224.2 L224.6,220 L227.2,215.8 L229.7,211.5 L232.1,207.1 L234.5,202.7 L236.8,198.1 L239,193.5 L241.1,188.9 Z"/>
<path fill="#000" d="M106.7,226.3 C108,227.8 110.9,232.1 114.5,235.1 C118,238 122.9,241.6 128.1,243.8 C133.3,246 140.3,247.3 145.6,248.1 C151,248.9 158.9,247.5 160.2,248.7 C161.5,249.9 157.1,253.8 153.4,255.5 C149.7,257.2 143,259.3 137.8,259 C132.6,258.7 126.6,256.1 122.3,253.6 C117.9,251 114.3,247.1 111.5,243.8 C108.8,240.6 106.7,235.7 105.7,234.1 Z"/>
<path d="M199,101.8 L260,110 L294.3,114.2 L346.5,121.7 L400,130 L453,136.8 L458,143.5 L400,136.3 L346.5,127.8 L294.3,119.5 L260,115 L199,105.4 Z" fill="#000"/>
<path d="M127.3,254.7 L309.4,438.3 A3.6,3.6 0 0 1 304.2,443.3 L124.7,257.3 Z" fill="#000"/>
</g>
<g id="ring" stroke-linecap="round">
<path fill="#000" d="M408.5,160.4 L411.8,158.4 L415.1,156.5 L418.5,154.7 L421.8,153 L425.1,151.4 L428.4,150 L431.7,148.6 L435,147.3 L438.3,146.2 L441.6,145.2 L444.9,144.2 L448.1,143.4 L451.4,142.6 L454.6,142 L457.8,141.5 L461,141.1 L464.1,140.8 L467.2,140.6 L470.3,140.6 L473.4,140.6 L476.4,140.7 L479.5,140.9 L482.5,141.3 L485.4,141.7 L488.3,142.2 L491.2,142.9 L494,143.6 L496.8,144.5 L499.5,145.5 L502.2,146.6 L504.9,147.8 L507.5,149.1 L510.1,150.4 L512.6,151.9 L515.1,153.5 L517.5,155.1 L519.8,156.9 L522.1,158.8 L524.3,160.8 L526.5,162.9 L528.6,165.1 L530.6,167.5 L532.6,169.9 L534.5,172.4 L536.3,175 L538.1,177.7 L539.8,180.4 L541.4,183.3 L542.9,186.3 L544.4,189.3 L545.8,192.5 L547.1,195.7 L548.4,199 L549.5,202.3 L550.6,205.8 L551.6,209.3 L552.5,212.9 L553.4,216.5 L554.1,220.3 L554.8,224 L555.4,227.9 L555.9,231.8 L556.3,235.8 L556.7,239.8 L556.9,243.9 L557.1,248 L557.1,252.2 L557.1,256.4 L557,260.7 L556.8,265 L556.5,269.4 L556.2,273.8 L555.7,278.2 L555.2,282.6 L554.6,287 L553.9,291.5 L553.1,296 L552.2,300.5 L551.1,305.1 L550,309.6 L545.5,308.7 L545.2,304 L544.9,299.3 L544.4,294.7 L543.8,290.2 L543.2,285.8 L542.6,281.4 L541.9,277.1 L541.1,272.8 L540.6,268.7 L541,264.6 L541.4,260.6 L541.7,256.7 L542,252.7 L542.1,248.9 L539.3,245.2 L535.5,241.7 L531.8,238.4 L529.5,235.1 L529.4,231.7 L529.4,228.3 L529.2,225 L529,221.8 L528.7,218.6 L528.3,215.4 L527.9,212.4 L527.3,209.4 L526.8,206.4 L526.1,203.5 L525.4,200.7 L524.6,198 L523.8,195.3 L522.8,192.8 L521.9,190.3 L520.8,187.8 L519.7,185.5 L518.5,183.2 L517.3,181 L515.9,178.9 L514.6,176.9 L513.1,175 L511.7,173.1 L510.1,171.4 L508.5,169.7 L506.8,168.1 L505.1,166.7 L503.3,165.3 L501.5,164 L499.6,162.8 L497.7,161.7 L495.7,160.7 L493.7,159.8 L491.6,159 L489.5,158.3 L487.3,157.7 L485.1,157.2 L482.8,156.7 L480.5,156.4 L478.2,156.2 L475.8,156.1 L473.4,156.1 L471,156.2 L468.5,156.4 L466,156.7 L463.5,157.1 L460.9,157.6 L458.4,158.2 L455.7,158.9 L453.1,159.7 L450.5,160.6 L447.7,161.3 L444.5,160.9 L441.1,160.6 L437.6,160.4 L434,160.3 L430.2,160.3 L426.3,160.4 L422.4,160.6 L418.3,161 L414.1,161.4 L409.8,162 Z"/>
<path fill="#000" d="M411.1,483.7 L408.6,484.4 L406.1,485.1 L403.7,485.7 L401.2,486.3 L398.7,486.8 L396.3,487.2 L393.9,487.6 L391.4,487.9 L389,488.1 L386.7,488.3 L384.3,488.4 L381.9,488.4 L379.6,488.4 L377.3,488.3 L375,488.2 L372.7,488 L370.4,487.7 L368.2,487.4 L366,486.9 L363.8,486.5 L361.6,485.9 L359.4,485.3 L357.3,484.7 L355.2,483.9 L353.2,483.2 L351.1,482.3 L349.1,481.4 L347.2,480.3 L345.3,479.2 L343.4,478 L341.6,476.7 L339.8,475.4 L338.1,474 L336.3,472.5 L334.7,471 L333,469.5 L331.4,467.9 L329.8,466.3 L328.2,464.7 L326.6,463 L325.1,461.2 L323.6,459.4 L322.2,457.6 L320.8,455.7 L319.5,453.7 L318.2,451.6 L317,449.5 L315.8,447.3 L314.7,445.1 L313.7,442.8 L312.6,440.4 L311.7,438 L310.8,435.6 L309.9,433.2 L308.9,430.8 L307.8,428.5 L306.7,426.3 L305.7,423.9 L304.7,421.5 L303.8,419.1 L302.9,416.6 L302.1,414.1 L301.2,411.5 L300.5,408.9 L299.9,406.2 L299.4,403.4 L298.8,400.5 L298.4,397.7 L298,394.8 L297.6,391.9 L297.3,388.9 L297,385.9 L296.7,382.9 L296.6,379.9 L296.4,376.8 L296.3,373.7 L296.3,370.6 L296.3,367.4 L296.3,364.2 L296.4,361 L298.6,360.1 L300.3,362.5 L302,364.8 L303.7,367 L305.4,369.1 L307,371.1 L308.6,373.1 L309.2,375.6 L309.3,378.3 L309.4,381 L309.5,383.7 L309.7,386.3 L309.9,388.9 L310.2,391.5 L310.5,394 L311,396.3 L311.7,398.4 L312.5,400.5 L313.2,402.6 L313.9,404.6 L314.6,406.6 L315.4,408.6 L316.1,410.5 L316.8,412.4 L317.4,414.4 L317.8,416.7 L318.2,418.9 L318.7,421.1 L319.2,423.3 L319.8,425.4 L320.4,427.5 L321.1,429.5 L321.7,431.5 L322.5,433.5 L323.2,435.4 L324.1,437.2 L325,438.9 L326,440.5 L327,442.2 L328.1,443.7 L329.2,445.2 L330.3,446.7 L331.4,448.1 L332.6,449.4 L333.9,450.6 L335.3,451.6 L336.8,452.5 L338.2,453.4 L339.7,454.2 L341.3,454.9 L342.8,455.6 L344.4,456.3 L346,456.9 L347.6,457.4 L349.2,457.9 L350.9,458.3 L352.6,458.6 L354.3,458.9 L356,459.2 L357.8,459.3 L359.5,459.5 L361.3,459.5 L363.1,459.6 L364.8,459.8 L366.6,459.9 L368.3,460 L370.1,460.1 L371.9,460.1 L373.7,460 L375.6,459.9 L377.4,459.7 L379.4,459.7 L382.2,462.3 L385.2,464.8 L388.3,467.2 L391.5,469.7 L394.9,472 L398.4,474.3 L402,476.5 L405.7,478.7 L409.6,480.8 Z"/>
<path d="M415.3,165.1 L416.7,164.3 L418,163.4 L419.4,162.6 L420.8,161.8 L422.1,161.1 L423.5,160.3 L424.9,159.6 L426.2,158.9 L427.6,158.2 L429,157.5 L430.3,156.8 L431.7,156.2 L433.1,155.6 L434.4,155 L435.8,154.4 L437.1,153.9 L438.5,153.3 L439.8,152.8 L441.2,152.3 L442.5,151.9 L443.9,151.4 L445.2,151 L446.6,150.6 L447.9,150.1 L449.2,149.8 L450.6,149.4 L451.9,149.1 L453.2,148.7 L454.5,148.4 L455.8,148.2 L457.2,147.9 L458.5,147.7 L459.8,147.5 L461.1,147.3 L462.4,147.1 L463.6,146.9 L464.9,146.8 L466.2,146.7 L467.5,146.6 L468.7,146.6 L470,146.5 L471.2,146.5 L472.5,146.5 L473.7,146.5 L475,146.5 L476.2,146.6 L477.4,146.6 L478.6,146.7 L479.9,146.8 L481.1,146.9 L482.3,147.1 L483.5,147.2 L484.6,147.4 L485.8,147.6 L487,147.9 L488.2,148.1 L489.3,148.4 L490.5,148.7 L491.6,149 L492.7,149.3 L493.8,149.7 L494.9,150 L496,150.4 L497.1,150.9 L498.2,151.3 L499.3,151.8 L500.4,152.2 L501.4,152.7 L502.5,153.2 L503.5,153.7 L504.6,154.3 L505.6,154.8 L506.6,155.4 L507.6,156 L508.6,156.6 L509.6,157.3 L510.6,157.9 L511.5,158.6 L512.5,159.3 L513.4,160" fill="none" stroke="#fff" stroke-width="1.0" />
<path d="M493.5,146.7 L495.4,147.3 L497.3,148 L499.2,148.7 L501,149.5 L502.8,150.3 L504.6,151.1 L506.4,152 L508.2,153 L509.9,154 L511.6,155.1 L513.3,156.2 L514.9,157.4 L516.5,158.6 L518.1,159.9 L519.6,161.3 L521.2,162.6 L522.6,164.1 L524.1,165.6 L525.5,167.1 L526.9,168.7 L528.2,170.4 L529.6,172.1 L530.8,173.8 L532.1,175.6 L533.3,177.5 L534.5,179.4 L535.6,181.3 L536.7,183.3 L537.8,185.3 L538.8,187.4 L539.8,189.5 L540.7,191.7 L541.6,193.9 L542.5,196.1 L543.4,198.4 L544.2,200.7 L544.9,203.1 L545.6,205.5 L546.3,207.9 L546.9,210.4 L547.5,212.9 L548.1,215.5 L548.6,218 L549.1,220.7 L549.5,223.3 L549.9,226 L550.2,228.7 L550.5,231.4 L550.8,234.2 L551,237 L551.2,239.8 L551.3,242.7 L551.4,245.6 L551.4,248.5 L551.4,251.4 L551.4,254.4 L551.3,257.3 L551.2,260.3 L551,263.3 L550.7,266.4 L550.5,269.4 L550.2,272.5 L549.8,275.6 L549.4,278.7 L549,281.8 L548.5,284.9 L548,288 L547.5,291.2 L546.9,294.3 L546.2,297.5 L545.5,300.6 L544.7,303.8 L543.9,307 L543.1,310.2 L542.2,313.4 L541.2,316.5 L540.2,319.7 L539.2,322.9 L538.2,326 L537.1,329.2" fill="none" stroke="#fff" stroke-width="1.1" />
<path d="M531.3,193.6 L531.6,194.4 L531.9,195.2 L532.2,196.1 L532.5,196.9 L532.8,197.7 L533.1,198.6 L533.3,199.4 L533.6,200.3 L533.9,201.1 L534.1,202 L534.4,202.9 L534.6,203.7 L534.8,204.6 L535.1,205.5 L535.3,206.4 L535.5,207.3 L535.7,208.2 L535.9,209.1 L536.1,210.1 L536.3,211 L536.5,211.9 L536.7,212.8 L536.8,213.8 L537,214.7 L537.2,215.7 L537.3,216.6 L537.5,217.6 L537.6,218.6 L537.8,219.5 L537.9,220.5 L538,221.5 L538.1,222.5 L538.2,223.5 L538.3,224.5 L538.4,225.5 L538.5,226.5 L538.6,227.5 L538.7,228.5 L538.8,229.5 L538.9,230.6 L538.9,231.6 L539,232.6 L539,233.7 L539.1,234.7 L539.1,235.8 L539.1,236.8 L539.2,237.9 L539.2,238.9 L539.2,240 L539.2,241.1 L539.2,242.1 L539.2,243.2 L539.2,244.3 L539.1,245.4 L539.1,246.5 L539.1,247.5 L539,248.6 L539,249.7 L538.9,250.8 L538.9,251.9 L538.8,253.1 L538.7,254.2 L538.7,255.3 L538.6,256.4 L538.5,257.5 L538.4,258.6 L538.3,259.8 L538.2,260.9 L538.1,262 L537.9,263.2 L537.8,264.3 L537.7,265.4 L537.5,266.6 L537.4,267.7 L537.2,268.9 L537.1,270 L536.9,271.2 L536.7,272.3 L536.5,273.5 L536.4,274.6" fill="none" stroke="#fff" stroke-width="1.6" stroke-dasharray="7 6"/>
<path d="M382.6,482.7 L381,482.7 L379.3,482.8 L377.7,482.8 L376.1,482.7 L374.5,482.6 L372.9,482.5 L371.3,482.4 L369.8,482.2 L368.2,482 L366.7,481.7 L365.1,481.5 L363.6,481.2 L362,480.9 L360.5,480.6 L359,480.2 L357.5,479.8 L356.1,479.3 L354.6,478.9 L353.2,478.4 L351.7,477.8 L350.3,477.2 L348.9,476.6 L347.5,476 L346.2,475.2 L344.8,474.5 L343.5,473.7 L342.2,472.8 L341,472 L339.7,471.1 L338.5,470.2 L337.2,469.2 L336,468.2 L334.9,467.2 L333.7,466.2 L332.5,465.1 L331.4,464 L330.3,462.9 L329.2,461.7 L328.1,460.6 L327,459.4 L326,458.1 L325,456.9 L324,455.6 L323,454.3 L322,452.9 L321.1,451.5 L320.2,450.1 L319.3,448.7 L318.5,447.2 L317.7,445.6 L316.9,444 L316.2,442.5 L315.5,440.8 L314.8,439.2 L314.1,437.5 L313.4,435.8 L312.8,434.1 L312.2,432.4 L311.6,430.6 L311.1,428.9 L310.3,427.2 L309.6,425.6 L309,423.9 L308.3,422.2 L307.7,420.5 L307.1,418.8 L306.5,417 L305.9,415.3 L305.4,413.5 L304.9,411.6 L304.4,409.8 L303.9,407.9 L303.5,406 L303.1,404.1 L302.8,402.1 L302.4,400.1 L302.1,398.1 L301.8,396.1 L301.6,394 L301.4,392" fill="none" stroke="#fff" stroke-width="1.6" />
<path d="M347.2,457.3 L340.7,454.7 L334.7,451.2 L329.7,445.9 L325.4,439.5 L321.9,432.1 L319.3,423.7 L317.4,414.6 L316.2,405 L315.6,394.9 L315.3,384.6 L315.7,373.9 L316.8,362.8 L318.7,351.4 L321.2,339.8 L324.1,328.1 L327.5,316.4 L331.5,304.6 L336,292.9 L341,281.2 L346.5,269.7 L352.5,258.5 L358.9,247.5 L365.7,236.9 L372.8,226.7 L380.2,216.9 L387.8,207.5 L395.7,198.7 L403.8,190.5 L412.1,183.1 L420.5,176.7 L428.9,171.1 L437.3,166.4 L445.5,162.5 L453.7,159.5 L461.6,157.5 L469.3,156.3 L476.7,156.2 L483.8,156.9 L490.4,158.6 L496.7,161.2 L502.5,164.7 L507.9,169.1 L512.6,174.3 L516.9,180.4 L520.5,187.3 L523.6,194.9 L526,203.2 L527.8,212.1 L529,221.7 L529.4,231.7 L529.3,242.3 L528.4,253.2 L527,264.5 L524.8,276.1 L522.1,287.8 L518.7,299.7 L514.7,311.6 L510.2,323.5 L505.1,335.4 L499.5,347 L493.5,358.4 L487,369.5 L480.1,380.2 L472.8,390.5 L465.3,400.3 L457.4,409.5 L449.4,418 L441.2,425.9 L432.9,433.1 L424.5,439.5 L416.1,445.1 L407.7,449.8 L399.5,453.7 L391.3,456.7 L383.4,458.7 L375.7,459.9 L368.3,460 L361.2,459.5 L354,458.9 L347.2,457.3" fill="none" stroke="#000" stroke-width="3.5" />
<path d="M437.7,146.4 L445.3,144.1 L452.7,142.3 L460.1,141.2 L467.4,140.6 L474.4,140.7 L481.4,141.1 L488.2,142.2 L494.7,143.9 L501,146.1 L507.1,148.9 L513,152.1 L518.6,156 L523.8,160.4 L528.8,165.3 L533.4,170.8 L537.6,176.8 L541.4,183.3 L544.8,190.3 L547.9,197.7 L550.5,205.5 L552.7,213.7 L554.5,222.2 L555.8,231.1 L556.7,240.4 L557.1,249.9 L557,259.6 L556.5,269.6 L555.5,279.7 L554.1,290 L552.2,300.4 L549.7,310.8 L546.7,321.3 L543.3,331.7 L539.5,342 L535.4,352.2 L530.8,362.3 L525.9,372.2 L520.6,381.9 L515,391.3 L509.1,400.4 L502.9,409.2 L496.5,417.6 L489.8,425.7 L482.9,433.4 L475.8,440.7 L468.6,447.7 L461.3,454.2 L453.8,460.2 L446.2,465.7 L438.5,470.7 L430.7,475.1 L423,478.9 L415.2,482.2 L407.5,484.7 L399.9,486.6 L392.3,487.8 L384.9,488.4 L377.7,488.4 L370.6,487.7 L363.8,486.5 L357.1,484.6 L350.8,482.1 L344.8,478.8 L339.2,474.9 L333.9,470.3 L328.9,465.4 L324.2,460.1 L319.8,454.2 L316,447.7 L312.7,440.6 L309.9,433.2 L306.7,426 L303.6,418.7 L301,410.8 L299.2,402.3 L297.8,393.5 L296.8,384.3 L296.3,374.8 L296.3,365.1 L296.7,355.2" fill="none" stroke="#000" stroke-width="3.2" />
<path d="M311.7,387.1 L311.6,384 L311.6,380.8 L311.7,377.5 L311.8,374.3 L312,371 L312.2,367.6 L312.6,364.2 L312.9,360.9 L313.4,357.4 L313.8,354 L314.4,350.5 L315,347 L315.7,343.5 L316.4,340 L317.2,336.5 L318,333 L318.8,329.4 L319.7,325.9 L320.7,322.3 L321.6,318.8 L322.7,315.2 L323.8,311.6 L324.9,308.1 L326.1,304.5 L327.4,300.9 L328.7,297.4 L330,293.8 L331.4,290.3 L332.9,286.7 L334.4,283.2 L335.9,279.7 L337.5,276.2 L339.1,272.7 L340.8,269.3 L342.5,265.8 L344.3,262.4 L346.1,259 L347.9,255.7 L349.8,252.3 L351.7,249 L353.7,245.7 L355.7,242.5 L357.7,239.3 L359.8,236.1 L361.9,233 L364,229.9 L366.2,226.9 L368.4,223.9 L370.6,220.9 L372.9,218 L375.1,215.1 L377.4,212.2 L379.7,209.4 L382,206.6 L384.4,203.9 L386.8,201.2 L389.2,198.6 L391.6,196.1 L394,193.6 L396.5,191.1 L399,188.8 L401.4,186.5 L403.9,184.2 L406.5,182 L409,179.9 L411.5,178 L414.1,176 L416.6,174.2 L419.2,172.4 L421.7,170.7 L424.3,169.1 L426.8,167.6 L429.4,166.1 L431.9,164.7 L434.5,163.4 L437,162.1 L439.5,161 L442.1,159.9 L444.6,158.9 L447.1,157.9" fill="none" stroke="#000" stroke-width="2.5" />
<path d="M308.4,389.5 L308.3,386.2 L308.2,382.9 L308.1,379.6 L308.2,376.3 L308.3,372.9 L308.4,369.5 L308.6,366 L308.9,362.5 L309.2,359 L309.6,355.5 L310.1,351.9 L310.6,348.4 L311.3,344.7 L311.9,341.1 L312.7,337.5 L313.4,333.9 L314.2,330.2 L315,326.6 L315.9,322.9 L316.9,319.2 L317.9,315.5 L319,311.8 L320.1,308.2 L321.3,304.5 L322.5,300.8 L323.8,297.1 L325.1,293.4 L326.5,289.8 L328,286.1 L329.5,282.5 L331.1,278.8 L332.7,275.2 L334.3,271.6 L336,268.1 L337.8,264.5 L339.6,261 L341.4,257.5 L343.3,254 L345.2,250.6 L347.2,247.1 L349.2,243.8 L351.2,240.4 L353.3,237.1 L355.5,233.9 L357.6,230.7 L359.8,227.5 L362.1,224.4 L364.4,221.4 L366.7,218.3 L369,215.3 L371.3,212.4 L373.7,209.5 L376.1,206.6 L378.5,203.8 L380.9,201 L383.4,198.3 L385.9,195.7 L388.4,193.1 L390.9,190.6 L393.5,188.1 L396,185.7 L398.6,183.4 L401.2,181.2 L403.8,179 L406.4,176.9 L409,174.9 L411.7,172.9 L414.3,171.1 L417,169.3 L419.6,167.6 L422.3,166 L424.9,164.4 L427.6,162.9 L430.2,161.5 L432.9,160.2 L435.5,159 L438.1,157.8 L440.7,156.7 L443.3,155.7 L445.9,154.8" fill="none" stroke="#000" stroke-width="2.5" />
<path d="M305.2,391.8 L304.9,388.5 L304.7,385.2 L304.6,381.8 L304.5,378.4 L304.5,374.9 L304.6,371.4 L304.7,367.9 L304.9,364.3 L305.1,360.7 L305.4,357.1 L305.8,353.4 L306.3,349.7 L306.8,346 L307.4,342.3 L308.1,338.6 L308.8,334.8 L309.5,331.1 L310.3,327.3 L311.2,323.5 L312.1,319.7 L313.1,315.9 L314.1,312.1 L315.2,308.3 L316.4,304.5 L317.6,300.7 L318.9,296.9 L320.2,293.1 L321.6,289.3 L323.1,285.5 L324.6,281.8 L326.2,278 L327.8,274.3 L329.5,270.6 L331.2,266.9 L333,263.3 L334.8,259.6 L336.7,256 L338.6,252.4 L340.5,248.9 L342.5,245.4 L344.6,241.9 L346.7,238.4 L348.9,235.1 L351.1,231.7 L353.3,228.5 L355.6,225.2 L357.9,222 L360.3,218.9 L362.7,215.8 L365.1,212.8 L367.5,209.7 L369.9,206.8 L372.4,203.9 L374.9,201 L377.4,198.2 L380,195.5 L382.6,192.8 L385.1,190.2 L387.8,187.7 L390.4,185.2 L393,182.8 L395.7,180.4 L398.4,178.1 L401.1,175.9 L403.8,173.8 L406.5,171.8 L409.3,169.9 L412,168 L414.7,166.2 L417.5,164.5 L420.2,162.8 L423,161.3 L425.7,159.8 L428.5,158.4 L431.2,157.1 L433.9,155.8 L436.7,154.7 L439.4,153.6 L442.1,152.6 L444.8,151.7" fill="none" stroke="#000" stroke-width="2.5" />
<path d="M317.8,418 L317.2,414.6 L316.6,411.2 L316.2,407.7 L315.8,404.2 L315.6,400.5 L315.4,396.9 L315.2,393.2 L315,389.5 L315,385.8 L315,381.9 L315.1,378.1 L315.3,374.2 L315.6,370.2 L316.1,366.1 L316.6,362.1 L317.1,358 L317.8,353.8 L318.6,349.6 L319.4,345.4 L320.4,341.2 L321.4,337 L322.5,332.8 L323.5,328.5 L324.7,324.3 L325.9,320 L327.2,315.8 L328.6,311.5 L330,307.2 L331.6,303 L333.2,298.7 L334.8,294.4 L336.6,290.2 L338.4,286 L340.2,281.8 L342.2,277.6 L344.1,273.4 L346.2,269.3 L348.3,265.2 L350.5,261.1 L352.7,257.1 L355,253.1 L357.3,249.1 L359.7,245.2 L362.2,241.3 L364.6,237.5 L367.2,233.8 L369.8,230.1 L372.4,226.4 L375,222.9 L377.7,219.3 L380.4,215.8 L383.2,212.3 L385.9,208.9 L388.8,205.6 L391.6,202.4 L394.5,199.3 L397.4,196.2 L400.4,193.3 L403.3,190.4 L406.3,187.6 L409.3,184.9 L412.3,182.4 L415.4,180 L418.4,177.7 L421.5,175.5 L424.5,173.5 L427.5,171.5 L430.6,169.6 L433.6,167.9 L436.6,166.3 L439.7,164.8 L442.7,163.4 L445.6,162.1 L448.6,160.9 L451.5,159.9 L454.5,158.9 L457.4,158.1 L460.2,157.4 L463.1,156.9 L465.9,156.4" fill="none" stroke="#000" stroke-width="4.4" />
<path d="M299.7,359.7 L299.9,356.3 L300.2,352.9 L300.6,349.5 L301,346 L301.5,342.5 L302,339.1 L302.6,335.6 L303.2,332.1 L303.8,328.5 L304.6,325 L305.3,321.5 L306.2,317.9 L307,314.4 L308,310.8 L308.9,307.3 L310,303.7 L311,300.2 L312.2,296.6 L313.3,293.1 L314.6,289.6 L315.9,286 L317.3,282.5 L318.7,279 L320.1,275.5 L321.6,272.1 L323.1,268.6 L324.7,265.2 L326.3,261.8 L328,258.4 L329.7,255 L331.4,251.7 L333.2,248.3 L335,245.1 L336.9,241.8 L338.8,238.5 L340.7,235.4 L342.8,232.2 L344.8,229.2 L346.9,226.1 L349.1,223.1 L351.2,220.2 L353.4,217.2 L355.6,214.4 L357.8,211.5 L360.1,208.7 L362.3,206 L364.6,203.3 L367,200.6 L369.3,198 L371.7,195.4 L374,192.9 L376.5,190.5 L378.9,188 L381.3,185.7 L383.8,183.4 L386.2,181.1 L388.7,178.9 L391.2,176.8 L393.7,174.7 L396.3,172.7 L398.8,170.7 L401.3,168.9 L403.9,167.1 L406.4,165.3 L409,163.6 L411.6,162 L414.2,160.4 L416.7,159 L419.3,157.5 L421.9,156.2 L424.5,154.9 L427,153.6 L429.6,152.5 L432.2,151.4 L434.7,150.3 L437.3,149.4 L439.9,148.5 L442.4,147.7 L444.9,146.9 L447.5,146.2" fill="none" stroke="#000" stroke-width="8.2" stroke-dasharray="9 9.5"/>
<path d="M299.7,359.7 L299.9,356.3 L300.2,352.9 L300.6,349.5 L301,346 L301.5,342.5 L302,339.1 L302.6,335.6 L303.2,332.1 L303.8,328.5 L304.6,325 L305.3,321.5 L306.2,317.9 L307,314.4 L308,310.8 L308.9,307.3 L310,303.7 L311,300.2 L312.2,296.6 L313.3,293.1 L314.6,289.6 L315.9,286 L317.3,282.5 L318.7,279 L320.1,275.5 L321.6,272.1 L323.1,268.6 L324.7,265.2 L326.3,261.8 L328,258.4 L329.7,255 L331.4,251.7 L333.2,248.3 L335,245.1 L336.9,241.8 L338.8,238.5 L340.7,235.4 L342.8,232.2 L344.8,229.2 L346.9,226.1 L349.1,223.1 L351.2,220.2 L353.4,217.2 L355.6,214.4 L357.8,211.5 L360.1,208.7 L362.3,206 L364.6,203.3 L367,200.6 L369.3,198 L371.7,195.4 L374,192.9 L376.5,190.5 L378.9,188 L381.3,185.7 L383.8,183.4 L386.2,181.1 L388.7,178.9 L391.2,176.8 L393.7,174.7 L396.3,172.7 L398.8,170.7 L401.3,168.9 L403.9,167.1 L406.4,165.3 L409,163.6 L411.6,162 L414.2,160.4 L416.7,159 L419.3,157.5 L421.9,156.2 L424.5,154.9 L427,153.6 L429.6,152.5 L432.2,151.4 L434.7,150.3 L437.3,149.4 L439.9,148.5 L442.4,147.7 L444.9,146.9 L447.5,146.2" fill="none" stroke="#fff" stroke-width="3.6" stroke-dasharray="9 9.5"/>
<path d="M541.1,264 L540.7,267.6 L540.2,271.3 L539.7,275 L539.1,278.7 L538.5,282.5 L537.8,286.2 L537,290 L536.1,293.8 L535.2,297.6 L534.2,301.4 L533.2,305.2 L532.1,309 L530.9,312.8 L529.6,316.6 L528.3,320.4 L527,324.2 L525.6,328 L524.1,331.8 L522.6,335.6 L521,339.3 L519.4,343.1 L517.8,346.8 L516,350.5 L514.3,354.1 L512.4,357.8 L510.6,361.4 L508.7,365 L506.7,368.6 L504.7,372.1 L502.7,375.6 L500.6,379.1 L498.4,382.5 L496.3,385.9 L494.1,389.2 L491.8,392.5 L489.5,395.8 L487.2,399 L484.9,402.1 L482.5,405.2 L480.1,408.3 L477.6,411.3 L475.1,414.2 L472.6,417.1 L470.1,419.9 L467.6,422.7 L465,425.4 L462.4,428.1 L459.8,430.7 L457.2,433.2 L454.6,435.7 L451.9,438.1 L449.2,440.5 L446.5,442.8 L443.8,445 L441.1,447.1 L438.4,449.2 L435.6,451.1 L432.9,453 L430.2,454.9 L427.4,456.6 L424.6,458.3 L421.9,459.9 L419.1,461.4 L416.4,462.8 L413.6,464.1 L410.9,465.4 L408.2,466.5 L405.4,467.6 L402.7,468.6 L400,469.5 L397.3,470.3 L394.7,471 L392,471.6 L389.4,472.1 L386.8,472.5 L384.2,472.9 L381.6,473.1 L379,473.3 L376.5,473.4 L374,473.4" fill="none" stroke="#000" stroke-width="2.7" />
<path d="M550.4,275.8 L550,279.4 L549.5,283 L548.9,286.6 L548.3,290.2 L547.6,293.9 L546.9,297.5 L546.1,301.2 L545.1,304.8 L544.2,308.5 L543.2,312.2 L542.1,315.9 L541,319.5 L539.8,323.2 L538.6,326.9 L537.3,330.5 L536,334.1 L534.6,337.8 L533.2,341.4 L531.7,345 L530.2,348.6 L528.6,352.1 L527,355.7 L525.3,359.2 L523.6,362.7 L521.9,366.2 L520.1,369.7 L518.2,373.1 L516.4,376.5 L514.5,379.9 L512.5,383.2 L510.5,386.5 L508.5,389.8 L506.4,393 L504.3,396.2 L502.1,399.3 L499.9,402.4 L497.7,405.5 L495.5,408.5 L493.2,411.5 L490.9,414.4 L488.6,417.3 L486.2,420.2 L483.8,422.9 L481.4,425.7 L479,428.4 L476.5,431 L474,433.6 L471.6,436.1 L469,438.6 L466.5,441.1 L464,443.5 L461.4,445.8 L458.8,448.1 L456.2,450.3 L453.6,452.5 L451,454.6 L448.3,456.6 L445.7,458.6 L443,460.5 L440.3,462.3 L437.6,464.1 L435,465.8 L432.3,467.4 L429.6,468.9 L426.9,470.4 L424.2,471.8 L421.5,473.1 L418.8,474.4 L416,475.6 L413.4,476.7 L410.7,477.7 L408,478.7 L405.3,479.5 L402.6,480.2 L400,480.9 L397.4,481.4 L394.7,481.9 L392.1,482.4 L389.5,482.7 L387,483" fill="none" stroke="#000" stroke-width="2.2" />
<circle cx="503" cy="347.5" r="3.2" fill="#000"/>
</g>
<path d="M482,378.2 L637,376.6" stroke="#000" stroke-width="4.1" stroke-dasharray="9.6 7.3" fill="none"/>
<path d="M519,397.7 L802.5,485" stroke="#000" stroke-width="4.2" stroke-dasharray="8.6 7.16" fill="none"/>
<path id="contoured" fill="#000" stroke="#000" stroke-width="1.1" stroke-linejoin="round" fill-rule="evenodd" d="M680.1,296.3 C681.9,296.1 687.6,295.1 691.3,295 C695.1,294.9 698.2,294.6 702.6,295.8 C707,296.9 713.2,298.8 717.6,302 C722,305.2 725.9,310.8 728.8,315 C731.8,319.3 732.4,324 735.1,327.5 C737.8,331.1 739.3,333.2 745.1,336.3 C751,339.4 760.1,343 770.1,346.3 C780.2,349.7 795.2,353.1 805.2,356.3 C815.2,359.5 823.5,362 830.2,365.6 C836.9,369.2 841.5,373.6 845.2,378.1 C848.9,382.6 850.8,388.3 852.2,392.6 C853.7,396.9 853.7,402 854,403.9 L854,403.9 L815.2,484 L815.2,484 L800.2,486.5 L800.2,486.5 C799.5,484.6 798.9,478.9 796.4,475.2 C793.9,471.4 790.4,467.3 785.2,463.9 C779.9,460.6 774.3,458.5 765.1,455.2 C756,451.8 740.5,447.7 730.1,443.9 C719.7,440.2 709.7,436.6 702.6,432.7 C695.5,428.7 691.3,424.5 687.6,420.1 C683.8,415.8 682.6,410.5 680.1,406.4 C677.5,402.2 675.5,398.2 672.5,395.1 C669.6,392 665.9,389.3 662.5,387.6 C659.2,385.9 655.9,385 652.5,385.1 C649.2,385.2 644.2,387.6 642.5,388.1 L642.5,388.1 L638.8,376.3 L638.8,376.3 L680.1,296.3 Z M648,373.1 L685.6,303.8 L685.6,303.8 C688.4,303.6 697.7,302.3 702.6,303 C707.5,303.7 711.7,305.6 715.1,308 C718.4,310.4 720.3,313.9 722.6,317.5 C724.9,321.2 725.9,326.1 728.8,330.1 C731.8,334 734.1,337.6 740.1,341.3 C746.2,345.1 754.7,348.9 765.1,352.6 C775.6,356.2 792.2,360.1 802.7,363.3 C813.1,366.6 821.4,368.9 827.7,372.1 C834,375.3 837.2,378.8 840.2,382.6 C843.2,386.4 844.7,391.6 845.7,395.1 C846.8,398.7 846.3,402.4 846.5,403.9 L846.5,403.9 L812.7,472.2 L812.7,472.2 C811.8,470.5 810.6,465.8 807.7,462.2 C804.8,458.6 800.6,454.3 795.2,450.7 C789.7,447.1 783.9,444 775.1,440.7 C766.4,437.3 753,434 742.6,430.7 C732.2,427.3 720,424.1 712.6,420.6 C705.2,417.2 701.9,414.3 698.1,410.1 C694.2,406 692.7,400.1 689.3,395.6 C685.9,391.1 682,386.6 677.5,383.1 C673.1,379.6 667.5,376.3 662.5,374.6 C657.6,372.9 650.4,373.3 648,373.1 Z"/>
<path id="smooth" fill="#000" stroke="#000" stroke-width="1.1" stroke-linejoin="round" fill-rule="evenodd" d="M123.8,544.5 C127.3,545.6 136.5,548 145,551.2 C153.5,554.5 165,559 175,563.8 C185,568.5 195.8,574.2 205,580 C214.2,585.8 222.1,591.7 230,598.8 C237.9,605.8 245.8,614 252.5,622.5 C259.2,631 264.6,640 270,650 C275.4,660 280.9,672.8 285,682.5 C289.1,692.2 292.9,703.8 294.5,708 L294.5,708 L256.2,790.7 L256.2,790.7 L241.5,794.6 L241.5,794.6 C240.5,791.3 238.3,782.2 235.7,775 C233.1,767.8 229.8,759.6 225.9,751.5 C222,743.4 217.4,734.2 212.2,726.1 C207,718 201.6,710.1 194.6,702.6 C187.6,695.1 179.1,687.7 170,681 C160.9,674.3 150.4,668.1 140,662.5 C129.6,656.9 117.6,651.7 107.5,647.5 C97.4,643.3 84.2,639.2 79.5,637.5 L79.5,637.5 L81.2,625.5 L81.2,625.5 L123.8,544.5 Z M90.5,623.8 L127,553 L127,553 C130,554 137,555.6 145,558.8 C153,561.9 165.4,567.2 175,572 C184.6,576.8 194.2,582 202.5,587.5 C210.8,593 217.9,598.5 225,605 C232.1,611.5 238.8,618.3 245,626.2 C251.2,634.2 257.1,642.7 262.5,652.5 C267.9,662.3 273.5,675.6 277.5,685 C281.5,694.4 284.9,704.7 286.4,708.6 L286.4,708.6 L252.6,777 L252.6,777 C251.4,773.7 248.3,764.2 245.5,757.4 C242.7,750.5 239.6,743.4 235.7,735.9 C231.8,728.4 227.2,720.1 222,712.4 C216.8,704.7 211.4,697 204.4,689.9 C197.4,682.8 188.7,676.4 180,670 C171.3,663.6 162.5,657.1 152.5,651.2 C142.5,645.4 130.3,639.6 120,635 C109.7,630.4 95.4,625.6 90.5,623.8 Z"/>
<path id="wavy" fill="#000" stroke="#000" stroke-width="1.1" stroke-linejoin="round" fill-rule="evenodd" d="M408.8,553.8 C410.7,554.1 416.1,554.1 420.1,555.5 C424,557 428.8,559.3 432.6,562.5 C436.3,565.8 439.3,570.7 442.6,575 C445.9,579.4 449.3,585.2 452.6,588.8 C455.9,592.3 459.5,594.9 462.6,596.3 C465.7,597.7 468.7,597 471.4,597.1 C474.1,597.1 477.6,596.8 478.9,596.8 L478.7,597.4 C479.4,598.2 481.6,599.9 482.7,602 C483.8,604.1 483.6,607.5 485.4,610 C487.2,612.5 490.3,614.7 493.4,616.7 C496.5,618.7 500.5,621 504.1,622 C507.7,623 511.9,622.8 514.8,622.7 C517.7,622.6 520.3,621.6 521.4,621.4 L521.4,621.4 C522.3,622.1 525.3,623.8 526.7,625.6 C528.1,627.4 528.1,630.2 530,632.2 C531.9,634.2 534.6,635.8 537.8,637.8 C540.9,639.8 545.6,642.3 548.9,644.5 C552.2,646.7 555,648.6 557.8,651.2 C560.6,653.8 563.5,656.7 565.6,660 C567.7,663.3 569.3,667.5 570.6,671.2 C571.9,674.9 572.7,678.6 573.2,682.3 C573.7,686 573.7,690.3 573.8,693.4 C573.9,696.5 573.8,699.7 573.8,701 L573.8,701 L537.5,773.5 L537.5,773.5 L537,787.3 L537,787.3 L521,785.6 L521,785.6 C520.8,783.3 520.8,776.4 520,771.7 C519.2,767 518.3,761.9 516.5,757.4 C514.7,752.9 512.6,748.9 509.4,745 C506.1,741.1 501.1,737.3 497,734.3 C492.9,731.3 487.8,729.6 484.5,727.2 C481.2,724.8 478.8,721.7 477.4,720 C476,718.3 476.2,717.5 476,717 L476,717 C474.4,717.2 470.3,718.5 466.7,718.3 C463.1,718.1 458,717.2 454.2,715.6 C450.4,714 446.4,711.1 443.6,708.5 C440.8,705.9 439,702.2 437.6,700 C436.2,697.8 435.4,695.8 435,695 L435,695 C434.2,694.8 432.9,694.6 430,694 C427.1,693.4 421.4,693.3 417.6,691.4 C413.9,689.5 410.4,686.2 407.5,682.6 C404.6,679 402.9,674.2 400,670 C397.1,665.8 393.3,660.7 390,657.6 C386.7,654.5 383.5,652.6 380,651.3 C376.5,650 370.7,650.2 368.8,650 L368.8,650 L368.8,640 L368.8,640 L408.8,553.8 Z M378,635.1 L411.3,562.5 L411.3,562.5 C412.8,562.6 416.9,562 420.1,563 C423.2,564.1 426.9,565.9 430.1,568.8 C433.2,571.6 435.9,575.9 438.8,580 C441.8,584.2 444.5,590 447.6,593.8 C450.7,597.6 454.1,600.7 457.6,602.6 C461.1,604.4 466.6,604.4 468.9,605.1 C471.2,605.7 470.9,606.3 471.4,606.6 L471.4,606.6 L437.6,676.4 L437.6,676.4 C435.9,676.6 430.5,678.3 427.6,677.6 C424.7,677 423,675.5 420.1,672.6 C417.1,669.7 413.2,664.3 410.1,660.1 C406.9,655.9 404.6,651.1 401.3,647.6 C398,644.1 393.9,640.9 390,638.8 C386.2,636.8 380,635.7 378,635.1 Z M445.6,680.1 L478.9,612.6 L478.7,612.7 C480,614 483.8,618.5 486.7,620.7 C489.6,622.9 492.8,624.5 496.1,626 C499.5,627.5 504,628.6 506.8,629.4 C509.6,630.2 511.8,630.5 512.8,630.7 L512.7,630.6 L478.9,701.4 L478.9,701.4 C477,701.6 471.2,703.1 467.6,702.7 C464.1,702.2 460.5,700.8 457.6,698.9 C454.7,697 452.1,694.5 450.1,691.4 C448.1,688.3 446.3,682 445.6,680.1 Z M486.9,703.2 L521.1,634 L521.1,634 C522,634.9 523.9,637.4 526.7,639.5 C529.5,641.6 534.3,644.5 537.8,646.7 C541.3,648.9 544.8,650.8 547.8,652.8 C550.8,654.8 553.4,656.6 555.6,658.9 C557.8,661.2 559.7,663.7 561.2,666.7 C562.7,669.7 563.8,673.2 564.5,676.7 C565.2,680.2 565.4,684.3 565.6,687.9 C565.8,691.5 565.6,696.7 565.6,698.5 L565.6,698.5 L535.2,758.3 L535.2,758.3 C534.5,756.1 532.9,749.3 530.7,745 C528.5,740.7 525.8,736.2 521.9,732.5 C518,728.8 512.1,725.5 507.6,722.7 C503.2,719.9 498.3,718 495.2,715.6 C492.1,713.2 490.3,710.6 488.9,708.5 C487.5,706.4 487.1,704.1 486.8,703.2 Z"/>
<path id="rib" fill="#000" stroke="#000" stroke-width="1.1" stroke-linejoin="round" fill-rule="evenodd" d="M658.4,556 C659.8,555.9 664,555.2 666.9,555.3 C669.8,555.4 672.9,555.5 675.8,556.6 C678.8,557.7 682.2,559.8 684.7,561.9 C687.3,564 689.5,566.9 691,569 C692.4,571.1 693.2,573.5 693.6,574.4 L693.6,574.4 C694.5,574.1 697,573 699,572.6 C700.9,572.1 703.3,571.4 705.2,571.7 C707.1,572 709.3,573 710.5,574.4 C711.8,575.7 712.3,578.1 712.8,579.7 C713.4,581.3 713.4,583.1 713.6,583.8 L713.6,583.8 C714.4,583.6 716.7,582.8 718.5,582.4 C720.4,582 722.8,581.2 724.8,581.5 C726.7,581.8 728.8,582.8 730.1,584.1 C731.4,585.5 732.2,587.9 732.8,589.5 C733.4,591 733.5,592.7 733.7,593.4 L733.7,593.4 C734.4,593.1 736.3,592 738.1,591.6 C739.9,591.2 742.4,590.5 744.3,590.9 C746.3,591.3 748.3,592.5 749.7,593.9 C751,595.3 751.8,597.6 752.3,599.3 C752.9,600.9 753.1,603 753.2,603.7 L751.8,604.8 C752.7,604.7 755.4,604.4 757.3,604.3 C759.1,604.3 761.8,604.3 762.7,604.3 L762.7,604.3 C765,605.8 771.8,610.2 776.7,613.4 C781.7,616.6 787.1,620.1 792.3,623.5 C797.5,626.9 802.7,630.1 807.9,633.6 C813.1,637.1 819.3,641.4 823.5,644.5 C827.6,647.6 829.9,649.2 832.8,652.3 C835.7,655.4 838.3,659.3 840.6,663.2 C842.9,667.1 845.1,671.3 846.8,675.7 C848.5,680.1 849.7,685.3 850.7,689.7 C851.7,694.1 852.5,698.3 852.7,702.1 C853,706 852.4,711.2 852.3,713.1 L852.2,712.3 L813.5,794.5 L813.5,794.5 L797.4,793.6 L797.4,793.6 C796.9,791.2 796,784.3 794.6,779.4 C793.1,774.5 791.4,769.3 788.9,764.3 C786.4,759.2 783.2,753.9 779.4,749.1 C775.6,744.4 771.5,740.6 766.2,735.9 C760.8,731.2 753.6,725.5 747.3,720.8 C741,716 733.7,711.2 728.4,707.5 C723,703.9 718.8,700.6 715.1,699 C711.4,697.4 708.6,699.1 706.1,698 C703.5,697 701.3,694.6 699.9,692.7 C698.4,690.8 697.6,687.5 697.2,686.5 L697.2,686.5 C696.3,686.9 693.9,688.8 691.9,689.1 C689.8,689.4 686.7,689.1 684.7,688.2 C682.8,687.3 681.5,685.6 680.3,683.8 C679,682 677.8,678.6 677.3,677.6 L677.3,677.6 C676.1,677.9 672.8,679.3 670.5,679.3 C668.2,679.3 665.2,678.6 663.4,677.6 C661.6,676.5 660.9,674.7 659.8,673.1 C658.8,671.5 657.6,668.7 657.2,667.8 L657.2,667.8 C656.4,667.9 654.6,668.7 652.7,668.7 C650.8,668.7 647.7,668.7 645.6,667.8 C643.5,666.9 641.7,665.1 640.2,663.3 C638.8,661.5 638.2,659 636.7,657.1 C635.2,655.2 633.4,653.1 631.4,651.8 C629.3,650.4 626.8,649.4 624.2,649.1 C621.7,648.8 617.6,649.8 616.2,650 L616.2,650 L617.1,637.5 L617.1,637.5 L658.4,556 Z M626.9,634 L661.6,563.7 L661.6,563.7 C662.8,563.5 666.2,562.3 668.7,562.4 C671.2,562.6 674.4,563.3 676.7,564.6 C679.1,565.8 681.3,567.9 683,569.9 C684.6,571.9 686.2,575.5 686.9,576.7 L686.9,576.7 L654,646.4 L654,646.4 C652.6,645.2 648.5,641.2 645.6,639.3 C642.7,637.4 639.8,635.7 636.7,634.9 C633.6,634 628.5,634.1 626.9,634 Z M658.8,650 L690.8,581.8 L690.8,581.8 C691.9,581.6 695.2,580.6 697.2,580.2 C699.2,579.9 701.6,578.8 702.9,579.7 C704.2,580.6 704.7,584.6 705,585.6 L705,585.6 L672.1,655.3 L672.1,655.3 C670.9,654.6 667.4,652.1 665.2,651.2 C662.9,650.3 659.8,650.2 658.8,650 Z M678.3,659.4 L710.9,590.9 L710.9,590.9 C712,590.7 715.3,589.8 717.3,589.5 C719.3,589.2 721.6,588.1 722.8,589.1 C724.1,590.1 724.4,594.3 724.8,595.4 L724.8,595.4 L691.9,664.6 L691.9,664.6 C690.7,664 687,661.7 684.7,660.8 C682.5,660 679.4,659.7 678.3,659.4 Z M698.3,669.2 L730.8,600.7 L730.8,600.7 C731.9,600.5 735.1,599.6 737,599.3 C739,599 741.3,597.9 742.6,598.9 C743.8,599.9 744,604.1 744.3,605.1 L744.3,605.1 L712,674.5 L712,674.5 C710.8,673.9 707.1,671.5 704.8,670.6 C702.6,669.7 699.4,669.4 698.3,669.2 Z M716.8,682.9 L749.3,612.1 L749.3,612.1 L761.2,611.8 L761.2,611.8 C763.2,613.2 768.9,617.3 773.6,620.4 C778.3,623.5 784,627.1 789.2,630.5 C794.4,633.9 799.8,637.2 804.8,640.6 C809.7,644 814.9,647.8 818.8,650.7 C822.7,653.7 825.3,655.4 828.1,658.5 C831,661.7 833.7,665.5 835.9,669.4 C838.1,673.3 839.9,677.7 841.4,681.9 C842.8,686.1 843.8,690.5 844.5,694.4 C845.1,698.3 845.2,702.5 845.3,705.3 C845.3,708.1 845,710.2 845,711.2 L845,711.2 L812.5,776.6 L812.5,776.6 C811.7,774.2 810.2,767.6 807.8,762.4 C805.4,757.2 802.4,751 798.3,745.4 C794.2,739.7 789.2,734 783.2,728.3 C777.2,722.7 770,717 762.4,711.3 C754.8,705.6 744.8,699 737.8,694.3 C730.9,689.6 724.3,684.8 720.8,683 C717.3,681.1 717.4,682.9 716.8,682.9 Z"/>
</svg>
</body></html>
